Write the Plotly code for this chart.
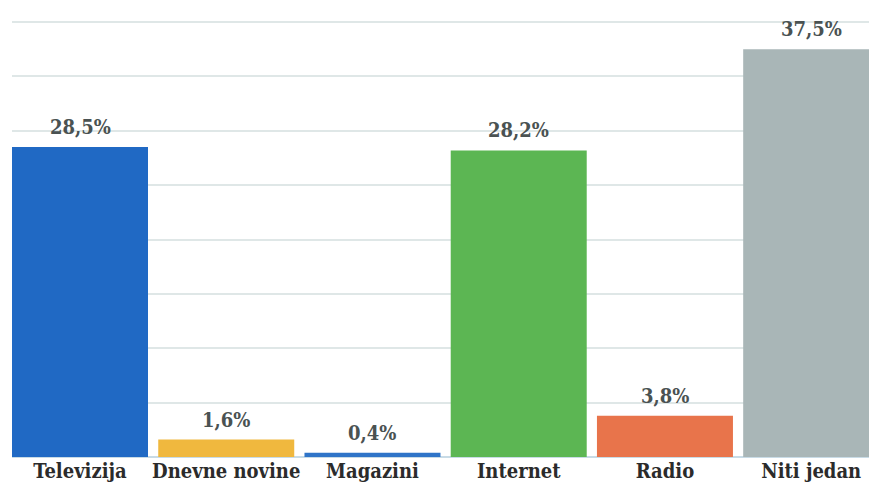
import plotly.graph_objects as go

categories = ["Televizija", "Dnevne novine", "Magazini", "Internet", "Radio", "Niti jedan"]
values = [28.5, 1.6, 0.4, 28.2, 3.8, 37.5]
labels = ["28,5%", "1,6%", "0,4%", "28,2%", "3,8%", "37,5%"]
colors = ["#2069c4", "#f0b83e", "#2f74c8", "#5cb653", "#e8744b", "#a9b6b7"]

FONT = "DejaVu Serif Condensed"

fig = go.Figure(go.Bar(
    x=categories, y=values,
    marker=dict(color=colors, line=dict(width=0)),
    width=0.93, cliponaxis=False,
))
for c, v, t in zip(categories, values, labels):
    fig.add_annotation(x=c, y=v, text="<b>" + t + "</b>", showarrow=False,
                       yanchor="bottom", yshift=6,
                       font=dict(family=FONT, size=20, color="#4a5252"))
fig.update_layout(
    width=877, height=495,
    margin=dict(l=4, r=8, t=13, b=46, autoexpand=False),
    paper_bgcolor="white", plot_bgcolor="white",
    showlegend=False,
    font=dict(family=FONT, size=20, color="#2b2b2b"),
    xaxis=dict(range=[-0.465, 5.45], showgrid=False, showline=False,
               automargin=False,
               tickfont=dict(family=FONT, size=20, color="#2b2b2b"),
               ticks="", ticklen=0),
    yaxis=dict(range=[0, 40.1], tickvals=[5, 10, 15, 20, 25, 30, 35, 40],
               showticklabels=False, showgrid=True, automargin=False,
               gridcolor="#dfe7e7", gridwidth=1.5, zeroline=True,
               zerolinecolor="#c8dbe6", zerolinewidth=2),
)
fig.update_xaxes(tickprefix="<b>", ticksuffix="</b>")
fig.write_html("out.html")
